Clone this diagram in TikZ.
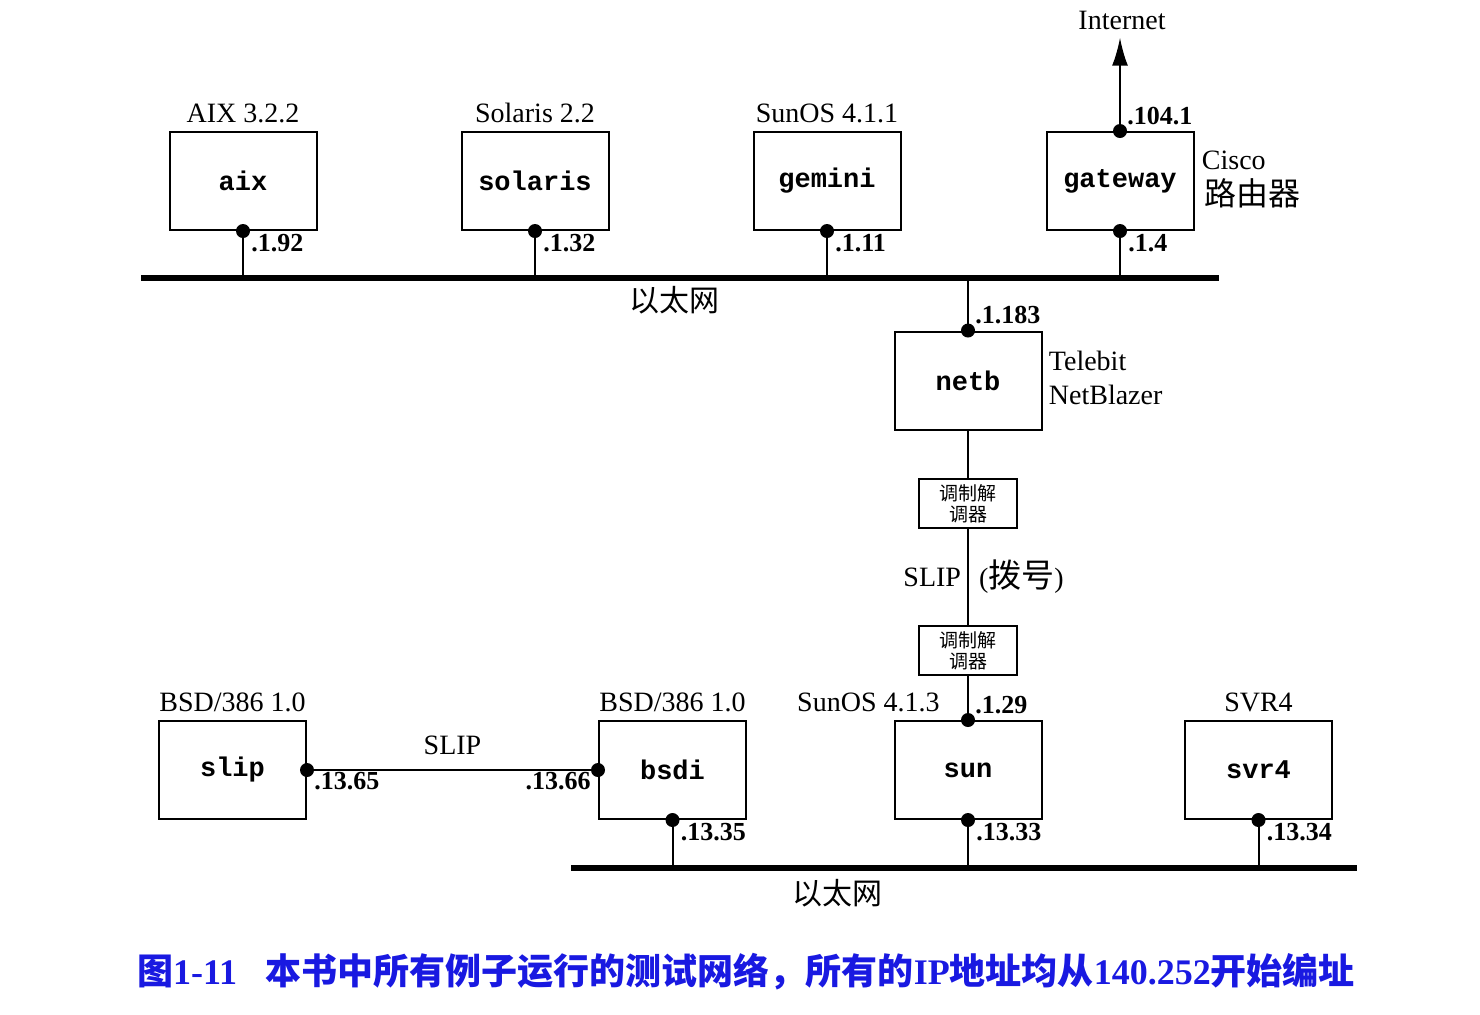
\documentclass[tikz,border=0pt]{standalone}
\usepackage{fontspec}
\setmainfont{Liberation Serif}
\setmonofont{Liberation Mono}
\newfontfamily\cjk{Noto Sans CJK SC}
\usepackage{xcolor}
\usetikzlibrary{arrows.meta}
\usetikzlibrary{positioning}
\definecolor{capblue}{RGB}{25,25,225}

\begin{document}
\begin{tikzpicture}[x=0.5pt, y=-0.5pt,
    host/.style={draw, line width=1pt, minimum width=73.5pt, minimum height=49pt,
        font=\fontsize{13.5}{16}\selectfont\ttfamily\bfseries},
    modem/.style={draw, line width=1pt, minimum width=49pt, minimum height=24.5pt,
        inner sep=1pt, align=center, font=\cjk\fontsize{9.5}{10.5}\selectfont},
    oslabel/.style={inner sep=1pt, font=\fontsize{14}{17}\selectfont},
    cjklabel/.style={inner sep=1pt, font=\cjk\fontsize{15}{18}\selectfont},
    addr/.style={inner sep=0pt, font=\fontsize{13}{15}\selectfont\bfseries},
    bus/.style={line width=3pt},
    stub/.style={line width=1pt}]
    \useasboundingbox (0,0) rectangle (1480,1014);

    % Ethernet oben
    \coordinate (eth1w) at (141,278);
    \coordinate (eth1e) at (1219,278);
    \draw[bus] (eth1w) -- (eth1e);
    \node[cjklabel] (eth1lbl) at (674,300) {以太网};

    % Rechner oben
    \foreach \name/\xx/\ip in {aix/243/.1.92, solaris/535/.1.32, gemini/827/.1.11, gateway/1120/.1.4} {
        \node[host] (\name) at (\xx,181) {\name};
        \draw[stub] (\name.south) -- (\name.south |- eth1w);
        \fill (\name.south) circle (3.5pt);
        \node[addr, anchor=north west] (ip-\name) at ([xshift=4pt,yshift=-1.5pt]\name.south) {\ip};
    }
    \foreach \name/\os in {aix/AIX 3.2.2, solaris/Solaris 2.2, gemini/SunOS 4.1.1}
        \node[oslabel, above=3pt of \name] (os-\name) {\os};

    % Router mit Internet
    \node[oslabel] (inet) at (1122,20) {Internet};
    \draw[stub, -{Latex[length=14pt,width=8pt]}, shorten >=3pt] (gateway.north) -- (gateway.north |- inet.south);
    \fill (gateway.north) circle (3.5pt);
    \node[addr, anchor=south west] (ip-gw2) at ([xshift=3.5pt,yshift=3pt]gateway.north) {.104.1};
    \node[oslabel, anchor=north west] (cisco) at ([xshift=2.5pt,yshift=-9pt]gateway.north east) {Cisco};
    \node[cjklabel, anchor=north west, font=\cjk\fontsize{16}{19}\selectfont] (router) at ([xshift=1.5pt,yshift=-2pt]cisco.south west) {路由器};

    % NetBlazer und Modems
    \node[host] (netb) at (968,380.5) {netb};
    \draw[stub] (netb.north |- eth1w) -- (netb.north);
    \fill (netb.north) circle (3.5pt);
    \node[addr, anchor=south west] (ip-netb) at ([xshift=3.5pt,yshift=3pt]netb.north) {.1.183};
    \node[oslabel, anchor=north west, align=left] (os-netb) at ([xshift=2pt,yshift=-9pt]netb.north east) {Telebit\\NetBlazer};

    \node[modem] (modem1) at (968,503.5) {调制解\\调器};
    \node[modem] (modem2) at (968,650.5) {调制解\\调器};
    \draw[stub] (netb.south) -- (modem1.north);
    \draw[stub] (modem1.south) -- node[oslabel, left=2pt] (lbl-slip1) {SLIP}
        node[oslabel, right=4pt] (lbl-dial) {({\cjk\fontsize{16.5}{19}\selectfont 拨号})} (modem2.north);

    % Ethernet unten
    \coordinate (eth2w) at (571,868);
    \coordinate (eth2e) at (1357,868);
    \draw[bus] (eth2w) -- (eth2e);
    \node[cjklabel] (eth2lbl) at (837,893) {以太网};

    % Rechner unten
    \node[host] (slip) at (232.5,770) {slip};
    \foreach \name/\xx/\ip in {bsdi/672.5/.13.35, sun/968/.13.33, svr4/1258.5/.13.34} {
        \node[host] (\name) at (\xx,770) {\name};
        \draw[stub] (\name.south) -- (\name.south |- eth2w);
        \fill (\name.south) circle (3.5pt);
        \node[addr, anchor=north west] (ip-\name) at ([xshift=4pt,yshift=-1.5pt]\name.south) {\ip};
    }
    \node[oslabel, above=3pt of slip] (os-slip) {BSD/386 1.0};
    \node[oslabel, above=3pt of bsdi] (os-bsdi) {BSD/386 1.0};
    \node[oslabel, above=3pt of svr4] (os-svr4) {SVR4};
    \node[oslabel, anchor=south east] (os-sun) at ([xshift=-13pt,yshift=3pt]sun.north) {SunOS 4.1.3};

    % Modem zu sun
    \draw[stub] (modem2.south) -- (sun.north);
    \fill (sun.north) circle (3.5pt);
    \node[addr, anchor=south west] (ip-sun2) at ([xshift=3.5pt,yshift=3pt]sun.north) {.1.29};

    % SLIP-Verbindung
    \draw[stub] (slip.east) -- node[oslabel, above=6pt] (lbl-slip2) {SLIP} (bsdi.west);
    \fill (slip.east) circle (3.5pt);
    \fill (bsdi.west) circle (3.5pt);
    \node[addr, anchor=north west] (ip-slip) at ([xshift=3.5pt,yshift=-1pt]slip.east) {.13.65};
    \node[addr, anchor=north east] (ip-bsdi2) at ([xshift=-3.5pt,yshift=-1pt]bsdi.west) {.13.66};

    % Bildunterschrift
    \node[inner sep=0pt, text=capblue, font=\fontsize{18}{21}\selectfont\bfseries] (caption) at (746,972)
        {{\cjk 图}1-11\hspace{0.8em}{\cjk 本书中所有例子运行的测试网络，所有的}IP{\cjk 地址均从}140.252{\cjk 开始编址}};
\end{tikzpicture}
\end{document}
